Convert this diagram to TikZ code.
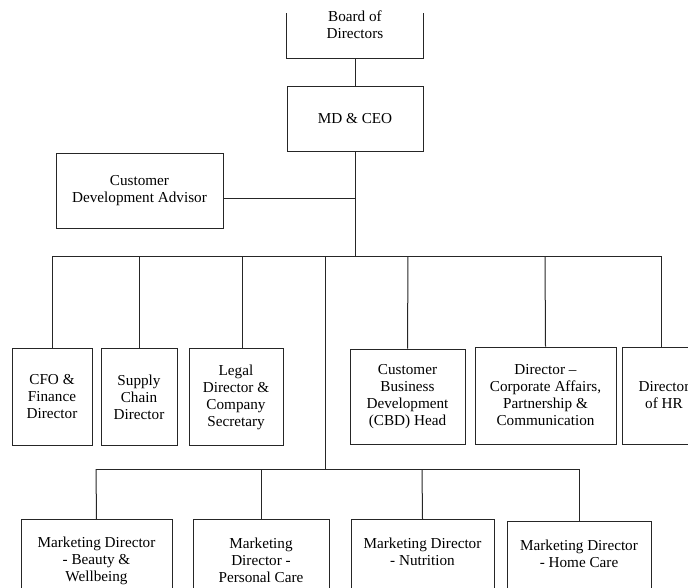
\documentclass[tikz,border=0pt]{standalone}
\usepackage{fontspec}
\setmainfont{Liberation Serif}
\usepackage{tikz}
\usetikzlibrary{positioning}

\begin{document}
\begin{tikzpicture}[
    x=1pt, y=-1pt,
    font=\fontsize{15.2}{17}\selectfont,
    unit/.style={rectangle, draw=black!85, line width=1pt, align=center, inner sep=1pt},
    head/.style={unit, minimum width=136pt, minimum height=65pt},
    dept/.style={unit, minimum height=97pt},
    mkt/.style={unit, anchor=north, minimum height=82pt},
    link/.style={draw=black!85, line width=1pt}
]
    \useasboundingbox (0,0) rectangle (688,587);
    \clip (0,0) rectangle (688,587);

    % Top
    \node[head, draw=none] (board) at (355,25) {Board of\\Directors};
    \node[head] (md) at (355,118.5) {MD \& CEO};
    \node[unit, minimum width=167pt, minimum height=75pt] (cda) at (139.5,190.5) {Customer\\Development Advisor};

    % Directors
    \node[dept, minimum width=80pt] (cfo) at (52,397) {CFO \&\\Finance\\Director};
    \node[dept, minimum width=76pt] (supply) at (139,397) {Supply\\Chain\\Director};
    \node[dept, minimum width=94pt] (legal) at (236,397) {Legal\\Director \&\\Company\\Secretary};
    \node[dept, minimum width=115pt, minimum height=95pt] (cbd) at (407.5,396.5) {Customer\\Business\\Development\\(CBD) Head};
    \node[dept, minimum width=141pt] (corp) at (545.5,395.5) {Director –\\Corporate Affairs,\\Partnership \&\\Communication};
    \node[dept, minimum width=84pt] (hr) at (664,395.5) {Director\\of HR};

    % Marketing
    \node[mkt, minimum width=151pt] (beauty) at (96.5,519) {Marketing Director\\- Beauty \&\\Wellbeing};
    \node[mkt, minimum width=136pt] (personal) at (261,519) {Marketing\\Director -\\Personal Care};
    \node[mkt, minimum width=143pt] (nutrition) at (422.5,519) {Marketing Director\\- Nutrition\\\mbox{}};
    \node[mkt, minimum width=144pt] (home) at (579,521) {Marketing Director\\- Home Care\\\mbox{}};

    % Bus points
    \coordinate (cut) at (0,13);
    \coordinate (join) at (355,198);
    \coordinate (bus) at (355,256);
    \coordinate (b1) at (52,256);
    \coordinate (b2) at (139,256);
    \coordinate (b3) at (242,256);
    \coordinate (b4) at (325,256);
    \coordinate (b5) at (408,256);
    \coordinate (b6) at (545,256);
    \coordinate (b7) at (661,256);
    \coordinate (m0) at (325,469);
    \coordinate (m1) at (96,469);
    \coordinate (m2) at (261,469);
    \coordinate (m3) at (422,469);
    \coordinate (m4) at (579,469);

    % Lines
    \draw[link] (board.south west |- cut) -- (board.south west) -- (board.south east) -- (board.south east |- cut);
    \draw[link] (board) -- (md);
    \draw[link] (md.south) -- (bus);
    \draw[link] (join -| cda.east) -- (join);
    \draw[link] (b1) -- (b7);
    \draw[link] (b1) -- (cfo.north);
    \draw[link] (b2) -- (supply.north);
    \draw[link] (b3) -- (b3 |- legal.north);
    \draw[link] (b5) -- (cbd.north);
    \draw[link] (b6) -- (corp.north);
    \draw[link] (b7) -- (b7 |- hr.north);
    \draw[link] (b4) -- (m0);
    \draw[link] (m1) -- (m4);
    \draw[link] (m1) -- (beauty.north);
    \draw[link] (m2) -- (personal.north);
    \draw[link] (m3) -- (nutrition.north);
    \draw[link] (m4) -- (home.north);

\end{tikzpicture}
\end{document}
